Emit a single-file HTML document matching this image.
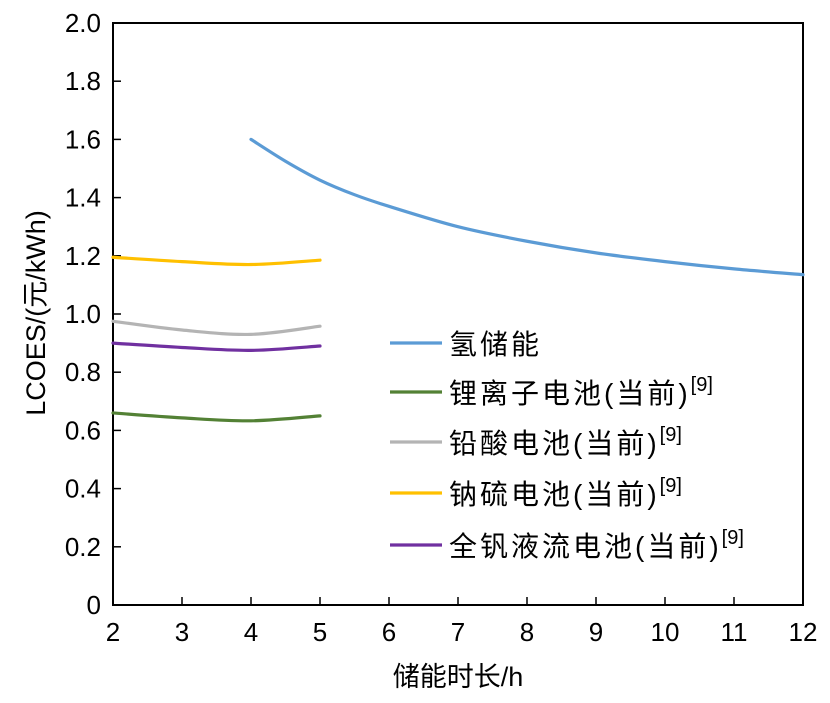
<!DOCTYPE html>
<html><head><meta charset="utf-8">
<style>
html,body{margin:0;padding:0;background:#fff;}
svg text{font-family:"Liberation Sans","Noto Sans CJK SC",sans-serif;fill:#000;}
</style></head>
<body>
<svg id="chart" width="830" height="698" xmlns="http://www.w3.org/2000/svg"></svg>
<script>
const xTicks=[2,3,4,5,6,7,8,9,10,11,12];
const yTicks=[0,0.2,0.4,0.6,0.8,1.0,1.2,1.4,1.6,1.8,2.0];
const yTickLabels=["0","0.2","0.4","0.6","0.8","1.0","1.2","1.4","1.6","1.8","2.0"];
const h2X=[4,4.5,5,5.5,6,7,8,9,10,11,12];
const h2Y=[1.6,1.525,1.46,1.41,1.37,1.30,1.25,1.21,1.18,1.155,1.135];
const batX=[2,3,4,5];
const liY=[0.66,0.643,0.633,0.65];
const leadY=[0.975,0.945,0.93,0.958];
const nasY=[1.195,1.18,1.17,1.185];
const vY=[0.9,0.885,0.875,0.89];
const seriesNames=["氢储能","锂离子电池(当前)","铅酸电池(当前)","钠硫电池(当前)","全钒液流电池(当前)"];
const colors=["#5b9bd5","#538135","#b4b4b4","#ffc000","#7030a0"];

const NS="http://www.w3.org/2000/svg";
const svg=document.getElementById('chart');
const X0=113,X1=803,Y0=605,Y1=23;
const xs=v=>X0+(v-2)/10*(X1-X0);
const ys=v=>Y0-v/2*(Y0-Y1);
function mk(t,a,p){const e=document.createElementNS(NS,t);for(const k in a)e.setAttribute(k,a[k]);(p||svg).appendChild(e);return e;}

const frame=mk('rect',{x:X0,y:Y1,width:X1-X0,height:Y0-Y1,fill:'none',stroke:'#000','stroke-width':2});



xTicks.forEach(v=>{
  const l=mk('line',{x1:xs(v),x2:xs(v),y1:Y0,y2:Y0-8,stroke:'#000','stroke-width':1.5});
  
  
  const t=mk('text',{x:xs(v),y:Y0+36,'text-anchor':'middle','font-size':26});
  t.textContent=v;
  
  
});
yTicks.forEach((v,i)=>{
  const l=mk('line',{x1:X0,x2:X0+8,y1:ys(v),y2:ys(v),stroke:'#000','stroke-width':1.5});
  
  
  const t=mk('text',{x:X0-12,y:ys(v)+9,'text-anchor':'end','font-size':26});
  t.textContent=yTickLabels[i];
  
  
});

function smooth(xv,yv){
  const p=xv.map((x,i)=>[xs(x),ys(yv[i])]);
  let d=`M${p[0][0]},${p[0][1]}`;
  for(let i=0;i<p.length-1;i++){
    const p0=p[i-1]||p[i],p1=p[i],p2=p[i+1],p3=p[i+2]||p2;
    const c1=[p1[0]+(p2[0]-p0[0])/6,p1[1]+(p2[1]-p0[1])/6];
    const c2=[p2[0]-(p3[0]-p1[0])/6,p2[1]-(p3[1]-p1[1])/6];
    d+=` C${c1[0]},${c1[1]} ${c2[0]},${c2[1]} ${p2[0]},${p2[1]}`;
  }
  return d;
}
const allSeries=[[h2X,h2Y],[batX,liY],[batX,leadY],[batX,nasY],[batX,vY]];
const seriesKeys=['hydrogen','lithium-ion','lead-acid','sodium-sulfur','vanadium-flow'];
allSeries.forEach((s,i)=>{
  const p=mk('path',{d:smooth(s[0],s[1]),fill:'none',stroke:colors[i],'stroke-width':3.2,'stroke-linecap':'round'});
  
  
});

const legRows=[343,392,442,493,545];
seriesNames.forEach((n,i)=>{
  const g=mk('g',{});
  
  
  mk('line',{x1:390,x2:442,y1:legRows[i],y2:legRows[i],stroke:colors[i],'stroke-width':3.2},g);
  const t=mk('text',{x:449,y:legRows[i]+11,'font-size':28,'letter-spacing':3},g);
  t.textContent=n;
  if(i>0){const s=mk('tspan',{dy:-12,'font-size':20,'letter-spacing':0},t);s.textContent='[9]';}
});

const xt=mk('text',{x:458,y:686,'text-anchor':'middle','font-size':27});
xt.textContent='储能时长/h';


const yt=mk('text',{x:0,y:0,'text-anchor':'middle','font-size':27,transform:'translate(45,313) rotate(-90)'});
yt.textContent='LCOES/(元/kWh)';


</script>
</body></html>
